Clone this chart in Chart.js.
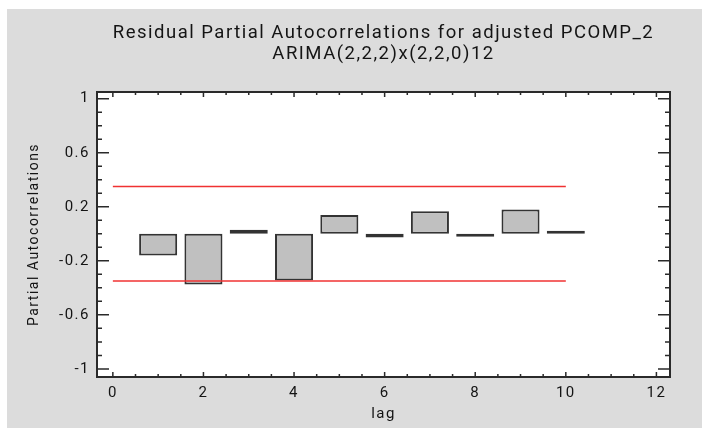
<!DOCTYPE html>
<html>
<head>
<meta charset="utf-8">
<script src="https://cdn.jsdelivr.net/npm/chart.js@4"></script>
<style>
  html, body { margin: 0; padding: 0; background: #fff; }
  #wrap { position: absolute; left: 7px; top: 9px; width: 695px; height: 419px; background: #dcdcdc; }
  canvas { display: block; }
</style>
</head>
<body>
<div id="wrap"><canvas id="pacf-chart" width="695" height="419"></canvas></div>
<script>
// lags and residual partial autocorrelations
let lags = [1, 2, 3, 4, 5, 6, 7, 8, 9, 10];
let pacf = [-0.16, -0.375, 0.03, -0.345, 0.14, -0.028, 0.167, -0.01, 0.18, 0.005];
// 95% probability limits
let limitLags = [0, 10];
let upperLimit = [0.35, 0.35];
let lowerLimit = [-0.35, -0.35];
// axis ticks
let xTicks = [0, 2, 4, 6, 8, 10, 12];
let yTicks = [1, 0.6, 0.2, -0.2, -0.6, -1];

let ink = '#2a2a2a';
let txt = '#141414';

// white plot area + frame + inward ticks
let framePlugin = {
    id: 'frame',
    beforeDraw(chart) {
        let a = chart.chartArea, ctx = chart.ctx;
        // the original text is drawn wide, so spread the letters a bit
        ctx.letterSpacing = '1.5px';
        ctx.save();
        ctx.fillStyle = '#fff';
        ctx.fillRect(a.left, a.top, a.right - a.left, a.bottom - a.top);
        ctx.restore();
    },
    afterDraw(chart) {
        let a = chart.chartArea, ctx = chart.ctx;
        let xs = chart.scales.x, ys = chart.scales.y;
        ctx.save();
        ctx.strokeStyle = ink;
        ctx.lineWidth = 2;
        ctx.strokeRect(a.left, a.top, a.right - a.left, a.bottom - a.top);
        ctx.lineWidth = 1.5;
        ctx.beginPath();
        for (let i = 0; i <= 24; i++) {
            let px = xs.getPixelForValue(i * 0.5);
            let len = (i % 4 === 0) ? 5 : 3;
            ctx.moveTo(px, a.bottom); ctx.lineTo(px, a.bottom - len);
            ctx.moveTo(px, a.top); ctx.lineTo(px, a.top + len);
        }
        for (let i = -10; i <= 10; i++) {
            let py = ys.getPixelForValue(i / 10);
            let len = ((i + 10) % 4 === 0) ? 12 : 5;
            ctx.moveTo(a.left, py); ctx.lineTo(a.left + len, py);
            ctx.moveTo(a.right, py); ctx.lineTo(a.right - len, py);
        }
        ctx.stroke();
        ctx.restore();
    }
};

let pacfChart = new Chart(document.getElementById('pacf-chart').getContext('2d'), {
    type: 'bar',
    data: {
        datasets: [{
            type: 'line',
            data: limitLags.map((x, i) => ({ x: x, y: upperLimit[i] })),
            borderColor: 'rgb(240, 50, 50)',
            borderWidth: 1.5,
            pointRadius: 0,
            order: 0
        }, {
            type: 'line',
            data: limitLags.map((x, i) => ({ x: x, y: lowerLimit[i] })),
            borderColor: 'rgb(240, 50, 50)',
            borderWidth: 1.5,
            pointRadius: 0,
            order: 0
        }, {
            data: lags.map((x, i) => ({ x: x, y: pacf[i] })),
            backgroundColor: '#c0c0c0',
            borderColor: '#333',
            borderWidth: 2,
            borderSkipped: false,
            minBarLength: 3,
            barPercentage: 0.84,
            categoryPercentage: 1,
            order: 1
        }]
    },
    options: {
        responsive: false,
        animation: false,
        layout: { padding: { left: 0, right: 32, top: 0, bottom: 0 } },
        plugins: {
            legend: { display: false },
            tooltip: { enabled: false },
            title: {
                display: true,
                fullSize: false,
                text: ['Residual Partial Autocorrelations for adjusted PCOMP_2', 'ARIMA(2,2,2)x(2,2,0)12'],
                color: txt,
                font: { family: 'Roboto', size: 18.5, weight: 'normal', lineHeight: 1.135 },
                padding: { top: 14, bottom: 27 }
            }
        },
        scales: {
            x: {
                type: 'linear',
                min: -0.35,
                max: 12.3,
                offset: false,
                grid: { display: false, drawTicks: false },
                border: { display: false },
                afterBuildTicks: s => { s.ticks = xTicks.map(v => ({ value: v })); },
                afterFit: s => { s.height = 51; },
                ticks: {
                    color: txt,
                    padding: 7,
                    maxRotation: 0,
                    font: { family: 'Roboto', size: 15 }
                },
                title: {
                    display: true,
                    text: 'lag',
                    color: txt,
                    font: { family: 'Roboto', size: 15 },
                    padding: { top: 0, bottom: 5 }
                }
            },
            y: {
                min: -1.06,
                max: 1.05,
                grid: { display: false, drawTicks: false },
                border: { display: false },
                afterBuildTicks: s => { s.ticks = yTicks.map(v => ({ value: v })); },
                afterFit: s => { s.width = 90; },
                ticks: {
                    color: txt,
                    padding: 7,
                    font: { family: 'Roboto', size: 15 },
                    callback: v => String(v)
                },
                title: {
                    display: true,
                    text: 'Partial Autocorrelations',
                    color: txt,
                    font: { family: 'Roboto', size: 14 },
                    padding: { top: 19, bottom: 0 }
                }
            }
        }
    },
    plugins: [framePlugin]
});
</script>
</body>
</html>
